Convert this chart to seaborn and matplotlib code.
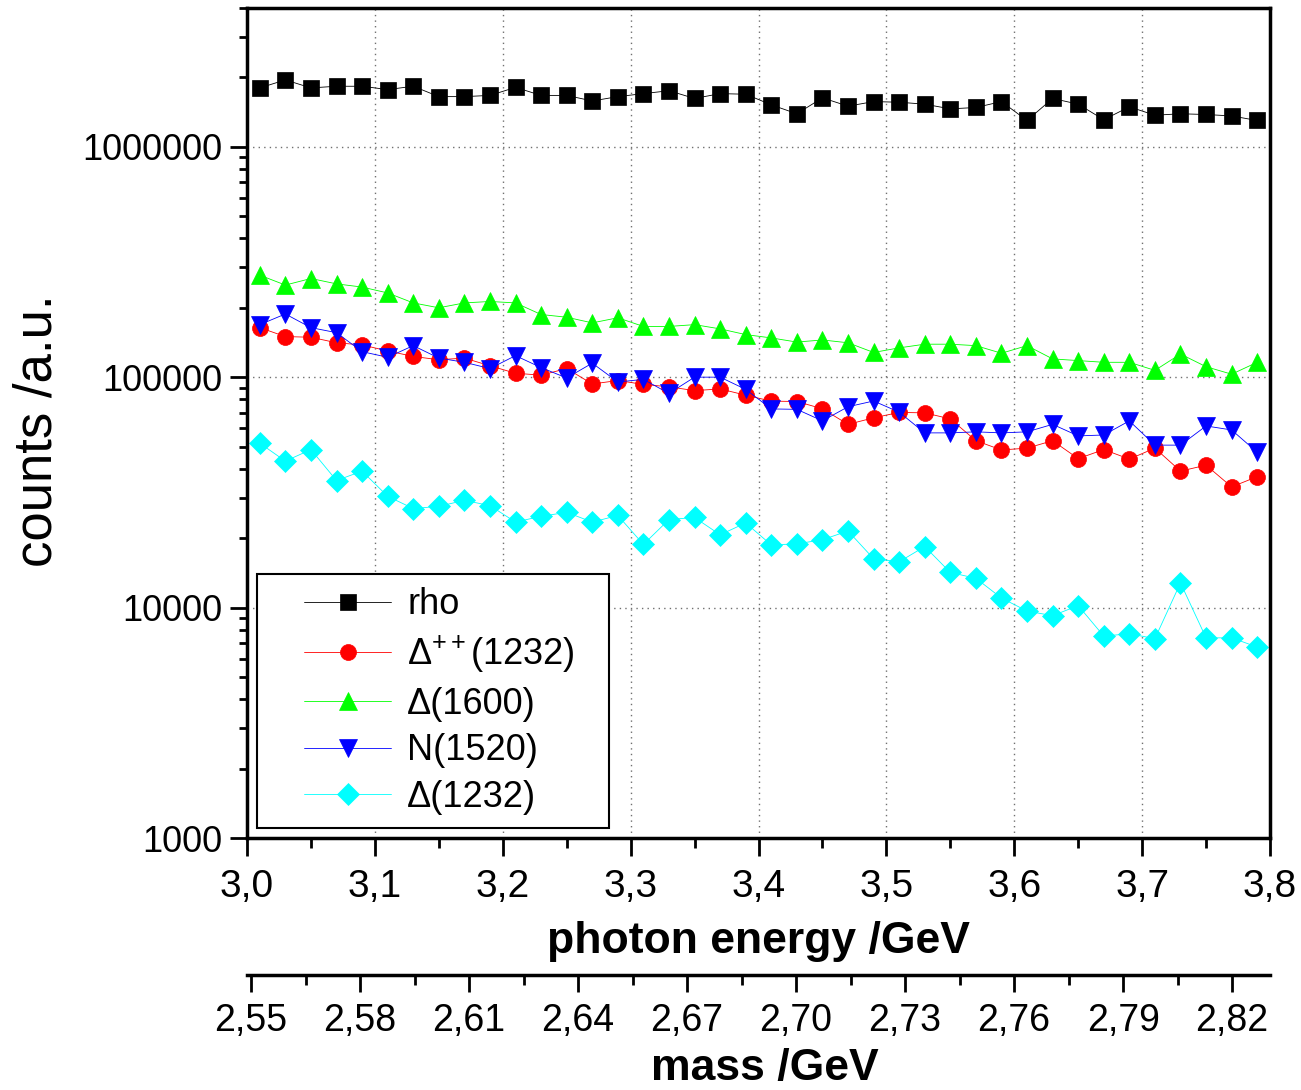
import numpy as np
import pandas as pd
import seaborn as sns
import matplotlib
matplotlib.use("Agg")
import matplotlib.pyplot as plt
from matplotlib.ticker import FixedLocator, NullFormatter
from matplotlib.patches import Rectangle

# photon energy bins (GeV)
photon_energy = [3.01, 3.03, 3.05, 3.07, 3.09, 3.11, 3.13, 3.15, 3.17, 3.19,
                 3.21, 3.23, 3.25, 3.27, 3.29, 3.31, 3.33, 3.35, 3.37, 3.39,
                 3.41, 3.43, 3.45, 3.47, 3.49, 3.51, 3.53, 3.55, 3.57, 3.59,
                 3.61, 3.63, 3.65, 3.67, 3.69, 3.71, 3.73, 3.75, 3.77, 3.79]

rho_counts = [1.80e6, 1.95e6, 1.80e6, 1.83e6, 1.83e6, 1.77e6, 1.83e6, 1.65e6, 1.65e6, 1.67e6,
              1.81e6, 1.67e6, 1.67e6, 1.58e6, 1.65e6, 1.70e6, 1.75e6, 1.62e6, 1.70e6, 1.69e6,
              1.52e6, 1.39e6, 1.63e6, 1.50e6, 1.57e6, 1.56e6, 1.53e6, 1.46e6, 1.48e6, 1.57e6,
              1.30e6, 1.62e6, 1.53e6, 1.31e6, 1.49e6, 1.37e6, 1.39e6, 1.38e6, 1.36e6, 1.30e6]

delta_pp_counts = [1.64e5, 1.50e5, 1.49e5, 1.41e5, 1.38e5, 1.30e5, 1.23e5, 1.19e5, 1.21e5, 1.12e5,
                   1.04e5, 1.02e5, 1.09e5, 9.34e4, 9.67e4, 9.30e4, 9.08e4, 8.74e4, 8.89e4, 8.35e4,
                   7.87e4, 7.84e4, 7.29e4, 6.24e4, 6.66e4, 7.03e4, 7.00e4, 6.59e4, 5.30e4, 4.83e4,
                   4.92e4, 5.30e4, 4.43e4, 4.85e4, 4.41e4, 4.92e4, 3.91e4, 4.15e4, 3.34e4, 3.70e4]

delta1600_counts = [2.77e5, 2.51e5, 2.68e5, 2.54e5, 2.46e5, 2.32e5, 2.10e5, 2.00e5, 2.10e5, 2.13e5,
                    2.10e5, 1.87e5, 1.82e5, 1.72e5, 1.81e5, 1.66e5, 1.66e5, 1.69e5, 1.62e5, 1.53e5,
                    1.48e5, 1.42e5, 1.45e5, 1.41e5, 1.28e5, 1.34e5, 1.39e5, 1.39e5, 1.37e5, 1.27e5,
                    1.37e5, 1.20e5, 1.18e5, 1.16e5, 1.16e5, 1.07e5, 1.26e5, 1.11e5, 1.03e5, 1.16e5]

n1520_counts = [1.69e5, 1.88e5, 1.64e5, 1.56e5, 1.29e5, 1.22e5, 1.37e5, 1.21e5, 1.16e5, 1.09e5,
                1.24e5, 1.10e5, 9.92e4, 1.15e5, 9.53e4, 9.78e4, 8.50e4, 1.00e5, 1.00e5, 8.85e4,
                7.28e4, 7.25e4, 6.46e4, 7.44e4, 7.88e4, 7.05e4, 5.73e4, 5.73e4, 5.79e4, 5.73e4,
                5.79e4, 6.24e4, 5.56e4, 5.61e4, 6.46e4, 5.07e4, 5.07e4, 6.14e4, 5.90e4, 4.72e4]

delta1232_counts = [5.17e4, 4.32e4, 4.85e4, 3.56e4, 3.91e4, 3.04e4, 2.69e4, 2.75e4, 2.92e4, 2.77e4,
                    2.35e4, 2.49e4, 2.59e4, 2.35e4, 2.51e4, 1.88e4, 2.41e4, 2.46e4, 2.07e4, 2.33e4,
                    1.87e4, 1.89e4, 1.97e4, 2.15e4, 1.63e4, 1.58e4, 1.84e4, 1.42e4, 1.34e4, 1.10e4,
                    9.66e3, 9.22e3, 1.02e4, 7.52e3, 7.70e3, 7.33e3, 1.28e4, 7.39e3, 7.39e3, 6.74e3]

series_labels = ["rho", r"$\Delta^{++}$(1232)", "Δ(1600)", "N(1520)", "Δ(1232)"]

energy_ticks = [3.0, 3.1, 3.2, 3.3, 3.4, 3.5, 3.6, 3.7, 3.8]
energy_tick_labels = ["3,0", "3,1", "3,2", "3,3", "3,4", "3,5", "3,6", "3,7", "3,8"]
count_ticks = [1e3, 1e4, 1e5, 1e6]
count_tick_labels = ["1000", "10000", "100000", "1000000"]
mass_ticks = [2.55, 2.58, 2.61, 2.64, 2.67, 2.70, 2.73, 2.76, 2.79, 2.82]
mass_tick_labels = ["2,55", "2,58", "2,61", "2,64", "2,67", "2,70", "2,73", "2,76", "2,79", "2,82"]

# linear map between the photon-energy axis and the mass axis
MASS_OFFSET = 1.4932
MASS_SLOPE = 0.3519


def to_mass(e):
    return MASS_OFFSET + MASS_SLOPE * np.asarray(e)


def to_energy(m):
    return (np.asarray(m) - MASS_OFFSET) / MASS_SLOPE


sns.set_style("ticks")
plt.rcParams["font.family"] = ["Liberation Sans", "DejaVu Sans"]
plt.rcParams["mathtext.fontset"] = "custom"
plt.rcParams["mathtext.rm"] = "Liberation Sans"
plt.rcParams["mathtext.it"] = "Liberation Sans:italic"
plt.rcParams["mathtext.bf"] = "Liberation Sans:bold"
for key in ("text.color", "axes.labelcolor", "xtick.color", "ytick.color",
            "axes.edgecolor"):
    plt.rcParams[key] = "black"

W, H = 1301, 1090
fig = plt.figure(figsize=(W / 100, H / 100), dpi=100)
ax = fig.add_axes([247 / W, 1 - 838 / H, (1270 - 247) / W, (838 - 8) / H])

data = pd.DataFrame({
    "energy": photon_energy,
    series_labels[0]: rho_counts,
    series_labels[1]: delta_pp_counts,
    series_labels[2]: delta1600_counts,
    series_labels[3]: n1520_counts,
    series_labels[4]: delta1232_counts,
})

styles = [
    ("#000000", "s", 11.0),
    ("#ff0000", "o", 11.5),
    ("#00ff00", "^", 13.5),
    ("#0000ff", "v", 13.5),
    ("#00ffff", "D", 11.0),
]

for label, (color, marker, ms) in zip(series_labels, styles):
    sns.lineplot(data=data, x="energy", y=label, ax=ax, color=color,
                 marker=marker, markersize=ms, markeredgecolor=color,
                 markeredgewidth=0.5, linewidth=0.6, label=label,
                 estimator=None, sort=False)

ax.set_yscale("log")
ax.set_xlim(3.0, 3.8)
ax.set_ylim(1000, 4e6)
ax.set_xlabel("")
ax.set_ylabel("")

ax.xaxis.set_major_locator(FixedLocator(energy_ticks))
ax.set_xticklabels(energy_tick_labels)
ax.xaxis.set_minor_locator(FixedLocator([3.05, 3.15, 3.25, 3.35, 3.45, 3.55, 3.65, 3.75]))
ax.yaxis.set_major_locator(FixedLocator(count_ticks))
ax.set_yticklabels(count_tick_labels)
minor_y = [m * 10 ** d for d in range(3, 7) for m in range(2, 10)]
ax.yaxis.set_minor_locator(FixedLocator(minor_y))
ax.yaxis.set_minor_formatter(NullFormatter())

ax.tick_params(axis="x", which="major", direction="out", length=13, width=2,
               pad=9, labelsize=28, top=False)
ax.tick_params(axis="x", which="minor", direction="out", length=7, width=2, top=False)
ax.tick_params(axis="y", which="major", direction="out", length=12.5, width=2,
               pad=5, labelsize=26, right=False)
ax.tick_params(axis="y", which="minor", direction="out", length=6, width=2, right=False)

for s in ax.spines.values():
    s.set_linewidth(2.5)
    s.set_color("black")
    s.set_visible(True)

ax.grid(True, which="major", color="#707070", linestyle=(0, (1, 3)), linewidth=1.0)
ax.set_axisbelow(True)

# secondary mass axis below the energy axis
sec = ax.secondary_xaxis(-0.1647, functions=(to_mass, to_energy))
sec.xaxis.set_major_locator(FixedLocator(mass_ticks))
sec.set_xticklabels(mass_tick_labels)
sec.xaxis.set_minor_locator(FixedLocator([t + 0.015 for t in mass_ticks]))
sec.tick_params(axis="x", which="major", direction="out", length=12.5, width=2,
                pad=8, labelsize=27)
sec.tick_params(axis="x", which="minor", direction="out", length=7, width=2)
sec.spines["bottom"].set_linewidth(2.5)

# legend with a plain rectangular frame
leg = ax.legend(loc="upper left", bbox_to_anchor=(0.056, 0.302), frameon=False,
                fontsize=26, handlelength=2.4, handletextpad=0.45,
                labelspacing=0.32, borderpad=0, borderaxespad=0)
ax.add_patch(Rectangle((10 / 1023, 10 / 830), 352 / 1023, 254 / 830,
                       transform=ax.transAxes, fill=True, facecolor="white",
                       edgecolor="black", linewidth=1.5, zorder=4))
leg.set_zorder(5)

fig.text(758 / W, 1 - 953 / H, "photon energy /GeV", ha="center", va="baseline",
         fontsize=32, fontweight="bold")
fig.text(765 / W, 1 - 1080 / H, "mass /GeV", ha="center", va="baseline",
         fontsize=32, fontweight="bold")
fig.text(38 / W, 1 - 431 / H, "counts /a.u.", rotation=90, ha="center",
         va="center", fontsize=38)

fig.savefig("out.png", dpi=100)
